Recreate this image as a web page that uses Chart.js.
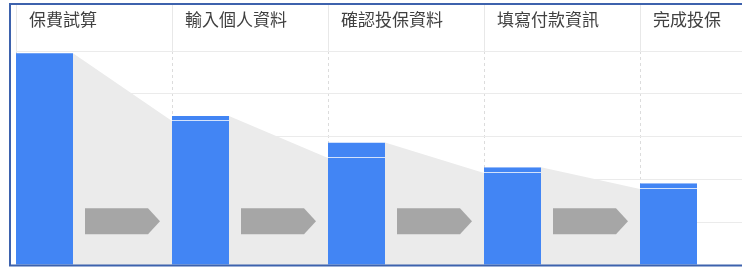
<!DOCTYPE html>
<html>
<head>
<meta charset="utf-8">
<script src="https://cdn.jsdelivr.net/npm/chart.js@4"></script>
<style>
html,body{margin:0;padding:0;overflow:hidden;background:#fff}
#wrap{position:relative;width:742px;height:267px;overflow:hidden}
#funnel{position:absolute;left:0;top:0}
</style>
</head>
<body>
<div id="wrap"><canvas id="funnel" width="800" height="267"></canvas></div>
<script>
// funnel steps and values (share of visitors, %)
const steps = ["保費試算","輸入個人資料","確認投保資料","填寫付款資訊","完成投保"]
const continued = [99, 67.3, 50.0, 43.0, 35.5]
const entered = [0, 2.3, 7.3, 2.7, 2.7]
const yMax = 100
const yStep = 20

const dropArea = {
id:"dropArea",
// gray drop-off areas between the bars, under the grid
beforeDraw(chart){
const ctx = chart.ctx
const y = chart.scales.y
const low = chart.getDatasetMeta(0).data
const high = chart.getDatasetMeta(1).data
const base = y.getPixelForValue(0)
ctx.save()
ctx.fillStyle="#ebebeb"
for(let i=0;i<low.length-1;i++){
const right = high[i].x + high[i].width/2
const nextLeft = low[i+1].x - low[i+1].width/2
ctx.beginPath()
ctx.moveTo(right, high[i].y)
ctx.lineTo(nextLeft, low[i+1].y)
ctx.lineTo(nextLeft, base)
ctx.lineTo(right, base)
ctx.closePath()
ctx.fill()
}
ctx.restore()
},
// arrows go over the grid lines
beforeDatasetsDraw(chart){
const ctx = chart.ctx
const y = chart.scales.y
const low = chart.getDatasetMeta(0).data
const high = chart.getDatasetMeta(1).data
const arrowY = y.getPixelForValue(yStep) - 1
ctx.save()
ctx.fillStyle="#a6a6a6"
for(let i=0;i<low.length-1;i++){
const x0 = high[i].x + high[i].width/2 + 12
const x1 = low[i+1].x - low[i+1].width/2 - 12
ctx.beginPath()
ctx.moveTo(x0, arrowY-13)
ctx.lineTo(x1-12, arrowY-13)
ctx.lineTo(x1, arrowY)
ctx.lineTo(x1-12, arrowY+13)
ctx.lineTo(x0, arrowY+13)
ctx.closePath()
ctx.fill()
}
ctx.restore()
},
// blue frame: left, top and bottom edges
afterDraw(chart){
const ctx = chart.ctx
ctx.save()
ctx.strokeStyle="#3d62ad"
ctx.lineWidth=2
ctx.beginPath()
ctx.moveTo(chart.width, 4)
ctx.lineTo(10, 4)
ctx.lineTo(10, 265.5)
ctx.lineTo(chart.width, 265.5)
ctx.stroke()
ctx.restore()
}
}

new Chart(document.getElementById("funnel"),{
type:"bar",
data:{
labels:steps,
datasets:[
{
data:continued,
backgroundColor:"#4285f4",
borderWidth:0,
stack:"funnel"
},
{
data:entered,
backgroundColor:"#4285f4",
borderColor:"#d3e2fb",
borderWidth:{top:0,left:0,right:0,bottom:1},
borderSkipped:false,
stack:"funnel"
},
{
data:steps.map(()=>0),
backgroundColor:"rgba(0,0,0,0)",
stack:"gap"
}
]
},
options:{
responsive:false,
animation:false,
layout:{padding:{left:16,right:4,top:3,bottom:2}},
datasets:{bar:{categoryPercentage:1.2692,barPercentage:0.5758}},
plugins:{legend:{display:false},tooltip:{enabled:false}},
scales:{
x:{
position:"top",
offset:true,
grid:{
offset:true,
color:"#dcdcdc",
tickLength:48,
tickColor:"#e8e8e8",
tickBorderDash:[]
},
border:{display:false,dash:[3,3]},
ticks:{
align:"start",
crossAlign:"center",
labelOffset:-65,
padding:-17,
maxRotation:0,
autoSkip:false,
color:"#404040",
font:{family:"'Noto Sans CJK TC','Noto Sans',sans-serif",size:17,lineHeight:2}
}
},
y:{
min:0,
max:yMax,
stacked:true,
ticks:{display:false,stepSize:yStep},
grid:{color:"#ebebeb",drawTicks:false},
border:{display:false}
}
}
},
plugins:[dropArea]
})
</script>
</body>
</html>
